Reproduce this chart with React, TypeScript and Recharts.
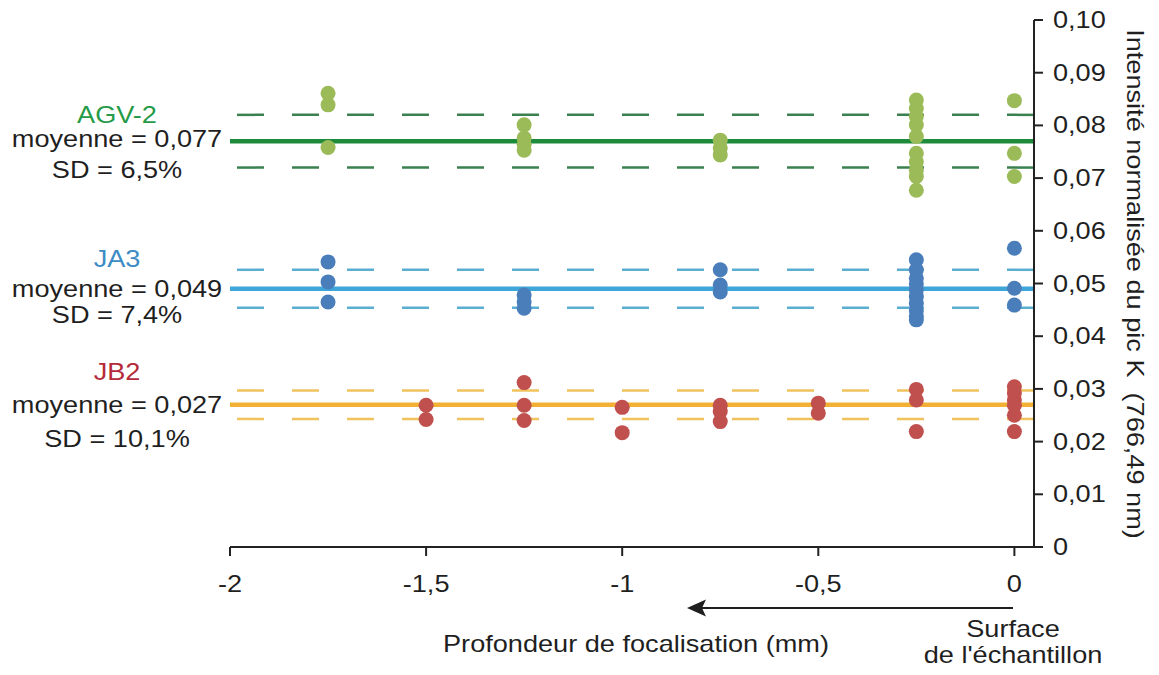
import React from 'react';
import { ScatterChart, Scatter, XAxis, YAxis, ReferenceLine } from 'recharts';

// ---- Data ----
const xTicks = [-2, -1.5, -1, -0.5, 0];
const yTicks = [0, 0.01, 0.02, 0.03, 0.04, 0.05, 0.06, 0.07, 0.08, 0.09, 0.1];

const agv2Points = [
  { depth: -1.75, intensity: 0.0861 },
  { depth: -1.75, intensity: 0.0839 },
  { depth: -1.75, intensity: 0.0758 },
  { depth: -1.25, intensity: 0.0801 },
  { depth: -1.25, intensity: 0.0776 },
  { depth: -1.25, intensity: 0.0764 },
  { depth: -1.25, intensity: 0.0753 },
  { depth: -0.75, intensity: 0.0772 },
  { depth: -0.75, intensity: 0.0757 },
  { depth: -0.75, intensity: 0.0744 },
  { depth: -0.25, intensity: 0.0848 },
  { depth: -0.25, intensity: 0.0832 },
  { depth: -0.25, intensity: 0.0817 },
  { depth: -0.25, intensity: 0.0801 },
  { depth: -0.25, intensity: 0.0779 },
  { depth: -0.25, intensity: 0.0747 },
  { depth: -0.25, intensity: 0.0731 },
  { depth: -0.25, intensity: 0.0715 },
  { depth: -0.25, intensity: 0.0703 },
  { depth: -0.25, intensity: 0.0677 },
  { depth: 0, intensity: 0.0847 },
  { depth: 0, intensity: 0.0747 },
  { depth: 0, intensity: 0.0703 },
];

const ja3Points = [
  { depth: -1.75, intensity: 0.0541 },
  { depth: -1.75, intensity: 0.0503 },
  { depth: -1.75, intensity: 0.0465 },
  { depth: -1.25, intensity: 0.0478 },
  { depth: -1.25, intensity: 0.0465 },
  { depth: -1.25, intensity: 0.0453 },
  { depth: -0.75, intensity: 0.0526 },
  { depth: -0.75, intensity: 0.0497 },
  { depth: -0.75, intensity: 0.0484 },
  { depth: -0.25, intensity: 0.0545 },
  { depth: -0.25, intensity: 0.0526 },
  { depth: -0.25, intensity: 0.051 },
  { depth: -0.25, intensity: 0.0499 },
  { depth: -0.25, intensity: 0.0488 },
  { depth: -0.25, intensity: 0.0475 },
  { depth: -0.25, intensity: 0.0462 },
  { depth: -0.25, intensity: 0.0449 },
  { depth: -0.25, intensity: 0.0438 },
  { depth: -0.25, intensity: 0.0431 },
  { depth: 0, intensity: 0.0567 },
  { depth: 0, intensity: 0.0491 },
  { depth: 0, intensity: 0.0459 },
];

const jb2Points = [
  { depth: -1.5, intensity: 0.0269 },
  { depth: -1.5, intensity: 0.0242 },
  { depth: -1.25, intensity: 0.0312 },
  { depth: -1.25, intensity: 0.0269 },
  { depth: -1.25, intensity: 0.024 },
  { depth: -1, intensity: 0.0265 },
  { depth: -1, intensity: 0.0217 },
  { depth: -0.75, intensity: 0.0269 },
  { depth: -0.75, intensity: 0.0257 },
  { depth: -0.75, intensity: 0.0238 },
  { depth: -0.5, intensity: 0.0273 },
  { depth: -0.5, intensity: 0.0254 },
  { depth: -0.25, intensity: 0.0299 },
  { depth: -0.25, intensity: 0.0279 },
  { depth: -0.25, intensity: 0.0219 },
  { depth: 0, intensity: 0.0304 },
  { depth: 0, intensity: 0.0292 },
  { depth: 0, intensity: 0.0279 },
  { depth: 0, intensity: 0.0269 },
  { depth: 0, intensity: 0.025 },
  { depth: 0, intensity: 0.0219 },
];

const sampleNames = ['AGV-2', 'JA3', 'JB2'];
const sampleMeans = [0.077, 0.049, 0.027];
const sampleUpper = [0.082, 0.0526, 0.0297];
const sampleLower = [0.072, 0.0454, 0.0243];
const meanLabels = ['moyenne = 0,077', 'moyenne = 0,049', 'moyenne = 0,027'];
const sdLabels = ['SD = 6,5%', 'SD = 7,4%', 'SD = 10,1%'];

// ---- Styles ----
const FONT = '"Liberation Sans", Arial, Helvetica, sans-serif';
const SX = 1.18;
const FS = 23;
const TEXT = '#1f1f1f';
const dotColors = ['#9bbb59', '#4a7ebb', '#c0504d'];
const meanColors = ['#1e8b3c', '#3ea6d8', '#f2b134'];
const bandColors = ['#3b8150', '#5aaed2', '#f0c35e'];
const nameColors = ['#259b48', '#3c8cc4', '#b52a3a'];
const nameOffsets = [-18, -22, -25];
const meanOffsets = [6, 8, 8];
const sdOffsets = [37, 34, 42];
const labelCenterX = 117;

const comma = (v: number) => String(v).replace('.', ',');
const yFmt = (v: number) => (v === 0 ? '0' : v.toFixed(2).replace('.', ','));

const StretchText = ({ x, y, anchor, fill, children }: any) => (
  <g transform={`translate(${x},${y}) scale(${SX},1)`}>
    <text x={0} y={0} textAnchor={anchor} fill={fill} fontSize={FS} fontFamily={FONT}>
      {children}
    </text>
  </g>
);

const XTick = (props: any) => {
  const { x, y, payload } = props;
  return <StretchText x={x} y={y + 36} anchor="middle" fill={TEXT}>{comma(payload.value)}</StretchText>;
};

const YTick = (props: any) => {
  const { x, y, payload } = props;
  return <StretchText x={x} y={y + 8} anchor="start" fill={TEXT}>{yFmt(payload.value)}</StretchText>;
};

const makeDot = (color: string) => (p: any) => (
  <circle cx={p.cx} cy={p.cy} r={7.5} fill={color} stroke="none" />
);

const makeGroupLabel = (i: number) => (props: any) => {
  const vb = props.viewBox || {};
  const ly = vb.y;
  const cx = vb.x - (230 - labelCenterX);
  return (
    <g>
      <StretchText x={cx} y={ly + nameOffsets[i]} anchor="middle" fill={nameColors[i]}>{sampleNames[i]}</StretchText>
      <StretchText x={cx} y={ly + meanOffsets[i]} anchor="middle" fill={TEXT}>{meanLabels[i]}</StretchText>
      <StretchText x={cx} y={ly + sdOffsets[i]} anchor="middle" fill={TEXT}>{sdLabels[i]}</StretchText>
    </g>
  );
};

const seriesPoints = [agv2Points, ja3Points, jb2Points];

export default function App() {
  return (
    <div style={{ position: 'absolute', left: 0, top: 0, width: 1159, height: 675, background: '#fff' }}>
      <ScatterChart width={1159} height={675} margin={{ top: 20, right: 0, bottom: 0, left: 230 }}>
        <XAxis
          type="number"
          dataKey="depth"
          domain={[-2, 0.05]}
          ticks={xTicks}
          interval={0}
          allowDataOverflow
          height={128}
          tickSize={9}
          tickMargin={0}
          stroke="#222"
          strokeWidth={2}
          tick={<XTick />}
        />
        <YAxis
          type="number"
          dataKey="intensity"
          orientation="right"
          domain={[0, 0.1]}
          ticks={yTicks}
          interval={0}
          allowDataOverflow
          width={125}
          tickSize={9}
          tickMargin={10}
          stroke="#222"
          strokeWidth={2}
          tick={<YTick />}
        />
        {sampleMeans.map((m, i) => (
          <ReferenceLine key={'u' + i} y={sampleUpper[i]} stroke={bandColors[i]} strokeWidth={2.5} strokeDasharray="27 28" />
        ))}
        {sampleMeans.map((m, i) => (
          <ReferenceLine key={'l' + i} y={sampleLower[i]} stroke={bandColors[i]} strokeWidth={2.5} strokeDasharray="27 28" />
        ))}
        {sampleMeans.map((m, i) => (
          <ReferenceLine key={'m' + i} y={m} stroke={meanColors[i]} strokeWidth={4.5} label={makeGroupLabel(i)} />
        ))}
        {seriesPoints.map((pts, i) => (
          <Scatter
            key={'s' + i}
            name={sampleNames[i]}
            data={pts}
            fill={dotColors[i]}
            shape={makeDot(dotColors[i])}
            isAnimationActive={false}
          />
        ))}
      </ScatterChart>
      <svg width={1159} height={675} style={{ position: 'absolute', left: 0, top: 0, pointerEvents: 'none' }}>
        <g transform="translate(1127,284) rotate(90) scale(1.18,1)">
          <text x={0} y={0} textAnchor="middle" fontSize={FS} fontFamily={FONT} fill={TEXT} style={{ whiteSpace: 'pre' }}>
            {'Intensité normalisée du pic K  (766,49 nm)'}
          </text>
        </g>
        <line x1={1013} y1={608} x2={700} y2={608} stroke="#1f1f1f" strokeWidth={2} />
        <path d="M687,608 L706,599.5 L702,608 L706,616.5 Z" fill="#1f1f1f" />
        <StretchText x={636} y={652} anchor="middle" fill={TEXT}>Profondeur de focalisation (mm)</StretchText>
        <StretchText x={1013} y={637} anchor="middle" fill={TEXT}>Surface</StretchText>
        <StretchText x={1013} y={663} anchor="middle" fill={TEXT}>de l'échantillon</StretchText>
      </svg>
    </div>
  );
}
